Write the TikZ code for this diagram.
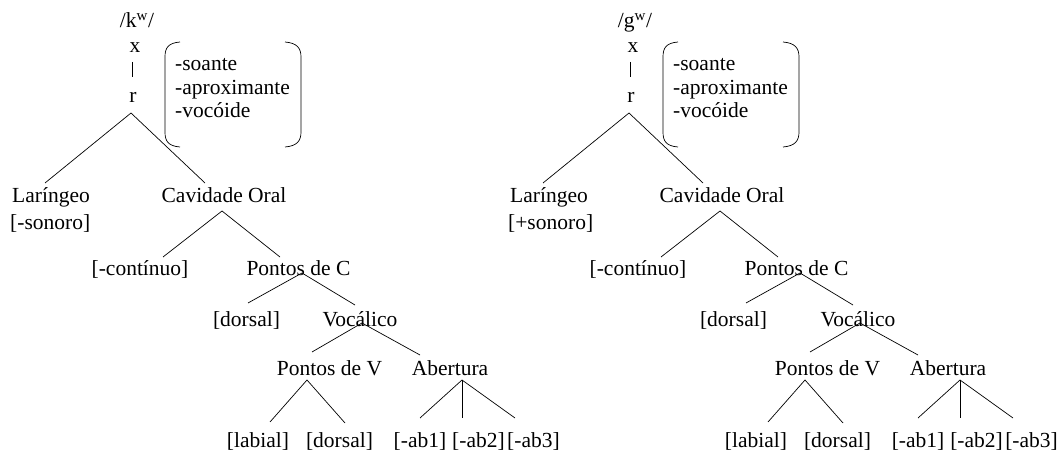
\documentclass[tikz,border=0pt]{standalone}
\usepackage{fontspec}
\setmainfont{Liberation Serif}
\newfontfamily\tmsfont{Liberation Serif}
\usetikzlibrary{calc}
\tikzset{
  lbl/.style={anchor=base, inner sep=0pt, font=\tmsfont\fontsize{21.5}{24}\selectfont},
  lblw/.style={lbl, anchor=base west},
  edge/.style={draw, line width=0.7pt},
  paren/.style={draw, line width=0.7pt},
}
\newcommand\phontree[5]{%
\begin{scope}[xshift=#2pt]
  \node[lbl] (#1ph) at (137,28) {/#3\textsuperscript{w}/};
  \node[lbl] (#1x) at (135,53) {x};
  \node[lbl] (#1r) at (133,103) {r};
  \draw[edge] ($(#1x.base)+(-3,9)$) -- ($(#1r.base)+(-1,-26)$);
  % feature bracket
  \node[lblw] (#1f1) at (175,71) {-soante};
  \node[lblw] (#1f2) at (175,95) {-aproximante};
  \node[lblw] (#1f3) at (175,118) {-vocóide};
  \draw[paren] (180,42) .. controls (168,43) and (165,48) .. (165,57) -- (165,132) .. controls (165,141) and (168,146) .. (180,147);
  \draw[paren] (285,42) .. controls (297,43) and (301,48) .. (301,57) -- (301,132) .. controls (301,141) and (297,146) .. (285,147);
  % level 1
  \node[lblw] (#1lar) at (12,203) {Laríngeo};
  \node[lblw] (#1son) at (10,230) {[#4sonoro]};
  \node[lbl] (#1cav) at (224,203) {Cavidade Oral};
  \draw[edge] ($(#1lar.base west)+(33,-20)$) -- ($(#1r.base)+(-2,10)$) -- ($(#1cav.base)+(-19,-20)$);
  % level 2
  \node[lbl] (#1cont) at (140,275) {[-contínuo]};
  \node[lbl] (#1pc) at (298.5,275) {Pontos de C};
  \draw[edge] ($(#1cont.base)+(23,-18)$) -- ($(#1cav.base)+(-2,8)$) -- ($(#1pc.base)+(-18.5,-18)$);
  % level 3
  \node[lbl] (#1dor) at (#5,326) {[dorsal]};
  \node[lbl] (#1voc) at (360,326) {Vocálico};
  \draw[edge] ($(#1pc.base)+(-50.5,28)$) -- ($(#1pc.base)+(3.5,-2)$) -- ($(#1voc.base)+(-5,-21)$);
  % level 4
  \node[lbl] (#1pv) at (329.5,375) {Pontos de V};
  \node[lbl] (#1ab) at (450,375) {Abertura};
  \draw[edge] ($(#1pv.base)+(-17.5,-23)$) -- ($(#1voc.base)+(2,-3)$) -- ($(#1ab.base)+(-30,-20)$);
  % level 5
  \node[lbl] (#1lab) at (258,447) {[labial]};
  \node[lbl] (#1dor2) at (339.5,447) {[dorsal]};
  \node[lbl] (#1ab1) at (420,447) {[-ab1]};
  \node[lbl] (#1ab2) at (478.5,447) {[-ab2]};
  \node[lbl] (#1ab3) at (533.5,447) {[-ab3]};
  \draw[edge] ($(#1lab.base)+(12,-25)$) -- ($(#1pv.base)+(-22.5,5)$) -- ($(#1dor2.base)+(5.5,-24)$);
  \draw[edge] ($(#1ab1.base)+(0,-29)$) -- ($(#1ab.base)+(12,5)$) -- ($(#1ab3.base)+(-18.5,-29)$);
  \draw[edge] ($(#1ab.base)+(12,5)$) -- ($(#1ab2.base)+(-16.5,-29)$);
\end{scope}}
\begin{document}
\begin{tikzpicture}[x=1pt, y=-1pt]
  \fill[white] (0,0) rectangle (1062,454);
  \useasboundingbox (0,0) rectangle (1062,454);
  \phontree{L}{0}{k}{-}{246.5}
  \phontree{R}{498}{g}{+}{235.5}
\end{tikzpicture}
\end{document}
